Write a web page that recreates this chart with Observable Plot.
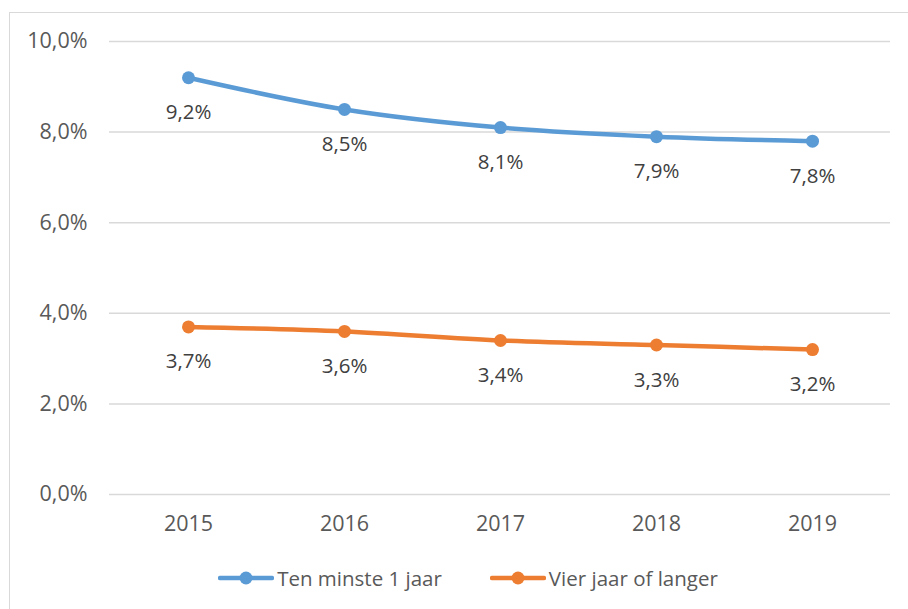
<!DOCTYPE html>
<html>
<head>
<meta charset="utf-8">
<script src="https://cdn.jsdelivr.net/npm/d3@7"></script>
<script src="https://cdn.jsdelivr.net/npm/@observablehq/plot@0.6"></script>
<style>
  html, body { margin: 0; padding: 0; background: #fff; overflow: hidden; }
  #wrap { position: relative; width: 908px; height: 609px; font-family: "Open Sans", sans-serif; }
  #frame { position: absolute; left: 9px; top: 12px; width: 1000px; height: 1000px; border: 1px solid #d9d9d9; box-sizing: border-box; pointer-events: none; }
  #chart { position: absolute; left: 0; top: 0; }
  #legend { position: absolute; left: 14px; top: 564px; width: 908px; display: flex; justify-content: center; gap: 48px; font-size: 20.5px; color: #595959; }
  .item { display: flex; align-items: center; gap: 3px; }
</style>
</head>
<body>
<div id="wrap">
  <div id="frame"></div>
  <div id="chart"></div>
  <div id="legend"></div>
</div>
<script>
const years = ["2015", "2016", "2017", "2018", "2019"];
const tenMinste1Jaar = [9.2, 8.5, 8.1, 7.9, 7.8];
const vierJaarOfLanger = [3.7, 3.6, 3.4, 3.3, 3.2];
const seriesNames = ["Ten minste 1 jaar", "Vier jaar of langer"];
const seriesColors = ["#5B9BD5", "#ED7D31"];
const yTicks = [0, 2, 4, 6, 8, 10];

const data = [];
years.forEach((y, i) => data.push({year: y, value: tenMinste1Jaar[i], series: seriesNames[0]}));
years.forEach((y, i) => data.push({year: y, value: vierJaarOfLanger[i], series: seriesNames[1]}));

const fmt = v => v.toFixed(1).replace(".", ",") + "%";

const plot = Plot.plot({
  width: 908,
  height: 555,
  marginLeft: 109,
  marginRight: 18,
  marginTop: 41,
  marginBottom: 61,
  style: { fontFamily: "Open Sans, sans-serif", fontSize: "21px", background: "transparent", overflow: "visible" },
  x: { type: "point", domain: years, padding: 0.5, label: null },
  y: { domain: [0, 10], label: null },
  color: { domain: seriesNames, range: seriesColors },
  marks: [
    Plot.gridY(yTicks, { stroke: "#d9d9d9", strokeOpacity: 1, strokeWidth: 1.5 }),
    Plot.axisY(yTicks, { tickFormat: fmt, tickSize: 0, tickPadding: 22, fill: "#595959", fontSize: 21.5, label: null }),
    Plot.axisX(years, { tickSize: 0, tickPadding: 21, fill: "#595959", fontSize: 21.5, label: null }),
    Plot.line(data, { x: "year", y: "value", z: "series", stroke: "series", strokeWidth: 4.5, curve: "catmull-rom" }),
    Plot.dot(data, { x: "year", y: "value", fill: "series", r: 6.5 }),
    Plot.text(data, { x: "year", y: "value", text: d => fmt(d.value), dy: 35, fill: "#404040", fontSize: 20.5 })
  ]
});
document.getElementById("chart").appendChild(plot);

const legend = document.getElementById("legend");
seriesNames.forEach((name, i) => {
  const item = document.createElement("div");
  item.className = "item";
  item.innerHTML = `<svg width="56" height="14"><line x1="2" y1="7" x2="54" y2="7" stroke="${seriesColors[i]}" stroke-width="4.5" stroke-linecap="round"/><circle cx="28" cy="7" r="6.5" fill="${seriesColors[i]}"/></svg><span>${name}</span>`;
  legend.appendChild(item);
});
</script>
</body>
</html>
